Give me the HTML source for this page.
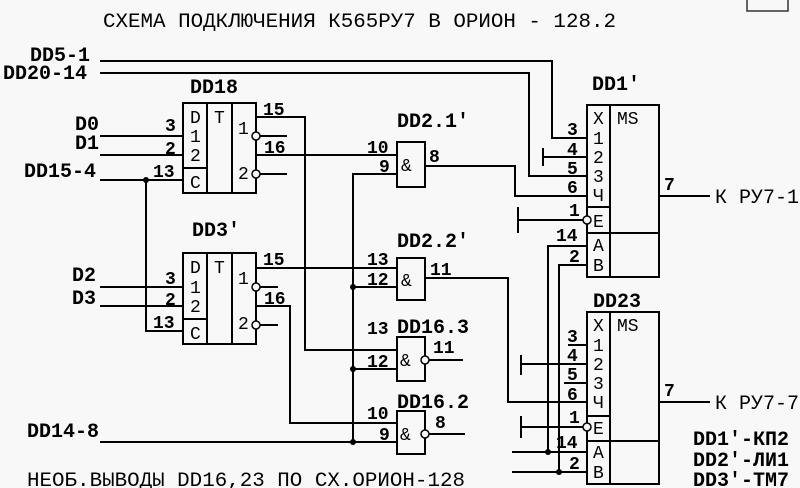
<!DOCTYPE html>
<html><head><meta charset="utf-8"><style>
html,body{margin:0;padding:0;background:#f8f8f8;}
svg{display:block;}
text{font-family:"Liberation Mono",monospace;fill:#000;}
.l{font-size:20px;font-weight:bold;}
.t{font-size:20px;}
.p{font-size:18px;font-weight:bold;}
.s{font-size:18px;}
</style></head><body>
<svg width="800" height="488" viewBox="0 0 800 488" xmlns="http://www.w3.org/2000/svg">
<rect width="800" height="488" fill="#f8f8f8"/>
<rect x="747" y="-2" width="41" height="13" fill="none" stroke="#333" stroke-width="1.5"/>
<text class="t" x="103" y="27" textLength="513" lengthAdjust="spacingAndGlyphs">СХЕМА ПОДКЛЮЧЕНИЯ К565РУ7 В ОРИОН - 128.2</text>
<g stroke="#000" stroke-width="2" fill="none">
<polyline points="100,61 552,61 552,138 587,138"/>
<polyline points="100,73 529,73 529,176 587,176"/>
<line x1="543" y1="157" x2="587" y2="157"/><line x1="543" y1="148" x2="543" y2="166"/>
<polyline points="425,166 515,166 515,196 587,196"/>
<line x1="518" y1="220" x2="583" y2="220"/><line x1="518" y1="207" x2="518" y2="233"/>
<rect x="587" y="105" width="72" height="172"/>
<line x1="610" y1="105" x2="610" y2="277"/>
<line x1="587" y1="207" x2="610" y2="207"/>
<line x1="587" y1="233" x2="659" y2="233"/>
<line x1="659" y1="196" x2="710" y2="196"/>
<polyline points="587,246 548,246 548,452"/>
<polyline points="587,265 559,265 559,472"/>
<rect x="587" y="312" width="72" height="172"/>
<line x1="610" y1="312" x2="610" y2="484"/>
<line x1="587" y1="416" x2="610" y2="416"/>
<line x1="587" y1="441" x2="659" y2="441"/>
<line x1="659" y1="402" x2="710" y2="402"/>
<line x1="568" y1="345" x2="587" y2="345"/>
<line x1="521" y1="364" x2="587" y2="364"/><line x1="521" y1="355" x2="521" y2="375"/>
<line x1="564" y1="383" x2="587" y2="383"/>
<polyline points="425,278 508,278 508,402 587,402"/>
<line x1="521" y1="427" x2="583" y2="427"/><line x1="521" y1="416" x2="521" y2="438"/>
<line x1="512" y1="452" x2="587" y2="452"/>
<line x1="512" y1="472" x2="587" y2="472"/>
<rect x="183" y="103" width="73" height="90"/>
<line x1="207" y1="103" x2="207" y2="193"/>
<line x1="232" y1="103" x2="232" y2="193"/>
<line x1="183" y1="168" x2="207" y2="168"/>
<line x1="100" y1="136" x2="183" y2="136"/>
<line x1="100" y1="155" x2="183" y2="155"/>
<line x1="100" y1="180" x2="183" y2="180"/>
<polyline points="146,180 146,331 183,331"/>
<polyline points="256,117 305,117 305,350 397,350"/>
<line x1="260" y1="136" x2="287" y2="136"/>
<line x1="256" y1="155" x2="397" y2="155"/>
<line x1="260" y1="174" x2="287" y2="174"/>
<rect x="183" y="253" width="73" height="91"/>
<line x1="207" y1="253" x2="207" y2="344"/>
<line x1="232" y1="253" x2="232" y2="344"/>
<line x1="183" y1="319" x2="207" y2="319"/>
<line x1="100" y1="287" x2="183" y2="287"/>
<line x1="100" y1="306" x2="183" y2="306"/>
<line x1="256" y1="268" x2="397" y2="268"/>
<line x1="260" y1="287" x2="278" y2="287"/>
<polyline points="256,306 290,306 290,423 397,423"/>
<line x1="260" y1="325" x2="278" y2="325"/>
<rect x="397" y="142" width="28" height="45"/>
<rect x="397" y="258" width="28" height="42"/>
<rect x="397" y="337" width="28" height="44"/>
<rect x="397" y="411" width="28" height="43"/>
<polyline points="397,174 353,174 353,442"/>
<line x1="353" y1="287" x2="397" y2="287"/>
<line x1="353" y1="369" x2="397" y2="369"/>
<line x1="100" y1="442" x2="397" y2="442"/>
<line x1="429" y1="360" x2="463" y2="360"/>
<line x1="429" y1="434" x2="465" y2="434"/>
</g>
<g stroke="#000" stroke-width="1.5" fill="#f8f8f8">
<circle cx="256" cy="136" r="4"/><circle cx="256" cy="174" r="4"/>
<circle cx="256" cy="287" r="4"/><circle cx="256" cy="325" r="4"/>
<circle cx="425" cy="360" r="4"/><circle cx="425" cy="434" r="4"/>
<circle cx="587" cy="220" r="4"/><circle cx="587" cy="427" r="4"/>
</g>
<g fill="#000">
<circle cx="146" cy="180" r="3"/>
<circle cx="353" cy="287" r="3"/><circle cx="353" cy="369" r="3"/><circle cx="353" cy="442" r="3"/>
<circle cx="548" cy="452" r="3"/><circle cx="559" cy="472" r="3"/>
</g>
<text class="l" x="30" y="61">DD5-1</text>
<text class="l" x="3" y="79">DD20-14</text>
<text class="l" x="190" y="93">DD18</text>
<text class="l" x="75" y="130">D0</text>
<text class="l" x="75" y="149">D1</text>
<text class="l" x="24" y="177">DD15-4</text>
<text class="l" x="192" y="236">DD3'</text>
<text class="l" x="72" y="281">D2</text>
<text class="l" x="72" y="304">D3</text>
<text class="l" x="27" y="437">DD14-8</text>
<text class="t" x="27" y="486" textLength="438" lengthAdjust="spacingAndGlyphs">НЕОБ.ВЫВОДЫ DD16,23 ПО СХ.ОРИОН-128</text>
<text class="l" x="397" y="127">DD2.1'</text>
<text class="l" x="397" y="247">DD2.2'</text>
<text class="l" x="397" y="333">DD16.3</text>
<text class="l" x="397" y="408">DD16.2</text>
<text class="l" x="592" y="90">DD1'</text>
<text class="l" x="593" y="307">DD23</text>
<text class="t" x="715" y="203">К РУ7-1</text>
<text class="t" x="715" y="409">К РУ7-7</text>
<text class="l" x="693" y="445">DD1'-КП2</text>
<text class="l" x="693" y="466">DD2'-ЛИ1</text>
<text class="l" x="693" y="486">DD3'-ТМ7</text>
<g>
<text class="p" x="165" y="131">3</text><text class="p" x="165" y="154">2</text><text class="p" x="153" y="177">13</text>
<text class="p" x="263" y="115">15</text><text class="p" x="264" y="153">16</text>
<text class="p" x="165" y="284">3</text><text class="p" x="165" y="305">2</text><text class="p" x="153" y="328">13</text>
<text class="p" x="263" y="265">15</text><text class="p" x="264" y="304">16</text>
<text class="p" x="367" y="153">10</text><text class="p" x="379" y="172">9</text><text class="p" x="429" y="162">8</text>
<text class="p" x="367" y="265">13</text><text class="p" x="367" y="285">12</text><text class="p" x="430" y="275">11</text>
<text class="p" x="367" y="334">13</text><text class="p" x="367" y="367">12</text><text class="p" x="433" y="353">11</text>
<text class="p" x="367" y="419">10</text><text class="p" x="379" y="440">9</text><text class="p" x="435" y="428">8</text>
<text class="p" x="567" y="135">3</text><text class="p" x="567" y="155">4</text><text class="p" x="567" y="174">5</text><text class="p" x="567" y="193">6</text>
<text class="p" x="569" y="216">1</text><text class="p" x="556" y="241">14</text><text class="p" x="569" y="262">2</text>
<text class="p" x="664" y="190">7</text>
<text class="p" x="567" y="342">3</text><text class="p" x="567" y="361">4</text><text class="p" x="567" y="380">5</text><text class="p" x="567" y="400">6</text>
<text class="p" x="569" y="423">1</text><text class="p" x="556" y="448">14</text><text class="p" x="569" y="469">2</text>
<text class="p" x="664" y="396">7</text>
</g>
<g>
<text class="s" x="190" y="123">D</text><text class="s" x="190" y="142">1</text><text class="s" x="190" y="161">2</text><text class="s" x="190" y="188">C</text>
<text class="s" x="214" y="123">T</text><text class="s" x="238" y="134">1</text><text class="s" x="238" y="179">2</text>
<text class="s" x="190" y="273">D</text><text class="s" x="190" y="293">1</text><text class="s" x="190" y="312">2</text><text class="s" x="190" y="339">C</text>
<text class="s" x="214" y="273">T</text><text class="s" x="238" y="284">1</text><text class="s" x="238" y="329">2</text>
<text class="s" x="401" y="171">&amp;</text><text class="s" x="401" y="286">&amp;</text><text class="s" x="400" y="366">&amp;</text><text class="s" x="400" y="440">&amp;</text>
<text class="s" x="593" y="124">X</text><text class="s" x="593" y="144">1</text><text class="s" x="593" y="163">2</text><text class="s" x="593" y="182">3</text><text class="s" x="593" y="201">Ч</text>
<text class="s" x="593" y="227">E</text><text class="s" x="593" y="251">A</text><text class="s" x="593" y="271">B</text>
<text class="s" x="617" y="124">MS</text>
<text class="s" x="593" y="331">X</text><text class="s" x="593" y="351">1</text><text class="s" x="593" y="370">2</text><text class="s" x="593" y="389">3</text><text class="s" x="593" y="408">Ч</text>
<text class="s" x="593" y="434">E</text><text class="s" x="593" y="458">A</text><text class="s" x="593" y="478">B</text>
<text class="s" x="617" y="331">MS</text>
</g>
</svg>
</body></html>
